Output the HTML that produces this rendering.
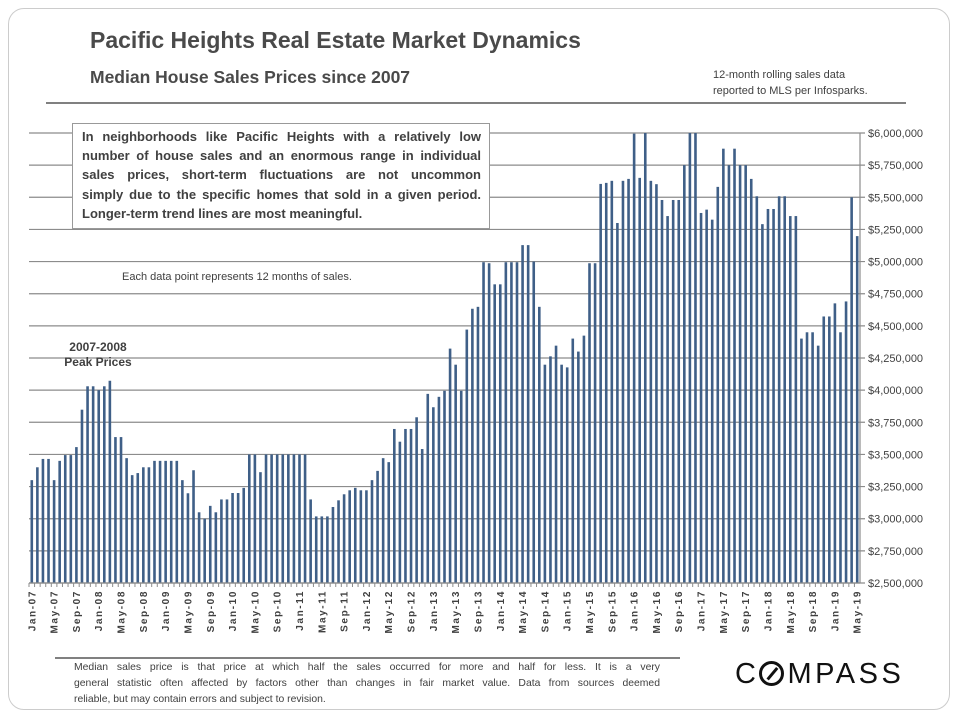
<!DOCTYPE html>
<html><head><meta charset="utf-8"><style>
body{margin:0;background:#fff;}
#wrap{position:relative;width:960px;height:720px;overflow:hidden;font-family:"Liberation Sans Narrow","Liberation Sans",sans-serif;color:#404040;}
.frame{position:absolute;left:8px;top:8px;width:942px;height:702px;border:1.5px solid #ccc;border-radius:16px;box-sizing:border-box;}
.t{position:absolute;white-space:nowrap;}
.jl{text-align:justify;text-align-last:justify;white-space:nowrap;}
</style></head><body>
<div id="wrap">
<div class="frame"></div>
<div class="t" style="left:90px;top:27px;font-size:23px;font-weight:bold;color:#4a4a4a;">Pacific Heights Real Estate Market Dynamics</div>
<div class="t" style="left:90px;top:67px;font-size:17.5px;font-weight:bold;color:#4a4a4a;">Median House Sales Prices since 2007</div>
<div class="t" style="left:713px;top:67px;font-size:11px;line-height:16px;color:#404040;">12-month rolling sales data<br>reported to MLS per Infosparks.</div>
<div style="position:absolute;left:46px;top:102px;width:860px;height:2px;background:#808080;"></div>
<svg id="chart" width="960" height="720" style="position:absolute;left:0;top:0;"></svg>
<div class="t" style="left:72px;top:123px;width:418px;height:106px;border:1px solid #999;background:#fff;box-sizing:border-box;padding:3px 8px 0 9px;font-size:13px;font-weight:bold;line-height:19.2px;color:#404040;">
<div class="jl">In neighborhoods like Pacific Heights with a relatively low</div>
<div class="jl">number of house sales and an enormous range in individual</div>
<div class="jl">sales prices, short-term fluctuations are not uncommon</div>
<div class="jl">simply due to the specific homes that sold in a given period.</div>
<div>Longer-term trend lines are most meaningful.</div>
</div>
<div class="t" style="left:122px;top:271px;font-size:11px;color:#404040;">Each data point represents 12 months of sales.</div>
<div class="t" style="left:58px;top:340px;width:80px;text-align:center;font-size:12px;font-weight:bold;line-height:15px;color:#404040;">2007-2008<br>Peak Prices</div>
<div style="position:absolute;left:55px;top:657px;width:625px;height:2px;background:#808080;"></div>
<div class="t" style="left:74px;top:660px;width:586px;font-size:10.4px;line-height:16px;color:#404040;">
<div class="jl">Median sales price is that price at which half the sales occurred for more and half for less. It is a very</div>
<div class="jl">general statistic often affected by factors other than changes in fair market value. Data from sources deemed</div>
<div>reliable, but may contain errors and subject to revision.</div>
</div>
<div class="t" style="left:735px;top:658px;font-size:29px;letter-spacing:3.5px;color:#111;font-family:'Liberation Sans',sans-serif;">C<span style="display:inline-block;width:25px;height:25px;border:3px solid #111;border-radius:50%;box-sizing:border-box;vertical-align:-3px;position:relative;margin-right:3px;"><span style="position:absolute;left:9px;top:2px;width:2.5px;height:15px;background:#111;transform:rotate(40deg);"></span></span>MPASS</div>
</div>
<script>
const months=["Jan","Feb","Mar","Apr","May","Jun","Jul","Aug","Sep","Oct","Nov","Dec"];
const prices=[3300,3400,3465,3465,3300,3450,3495,3495,3557,3848,4030,4030,4000,4030,4073,3635,3635,3471,3339,3355,3400,3400,3450,3450,3450,3450,3450,3300,3198,3377,3050,3000,3100,3050,3150,3150,3200,3200,3240,3500,3500,3362,3500,3500,3500,3500,3500,3500,3500,3500,3150,
3018,3018,3018,3091,3143,3190,3221,3240,3221,3221,3300,3372,3471,3440,3698,3599,3698,3698,3789,3542,3971,3867,3948,3995,4323,4198,3995,4471,4633,4648,4995,4987,4823,4823,4995,4995,4995,5128,5128,5000,4648,4198,4263,4346,4198,4177,4401,4300,4424,4987,
4987,5604,5612,5628,5300,5628,5643,5995,5651,6000,5628,5602,5479,5354,5479,5479,5750,6000,6000,5378,5404,5326,5581,5878,5750,5878,5750,5750,5643,5508,5291,5409,5409,5508,5508,5354,5354,4401,4450,4450,4346,4573,4573,4675,4450,4690,5500,5198];
const yTicks=[2500,2750,3000,3250,3500,3750,4000,4250,4500,4750,5000,5250,5500,5750,6000];
const startYear=2007;
const NS="http://www.w3.org/2000/svg";
const svg=document.getElementById('chart');
const X0=29,X1=860,Y0=583,Y1=133,VMIN=2500,VMAX=6000;
const step=(X1-X0)/prices.length;
function xPos(i){return X0+step*(i+0.5);}
function yPos(v){return Y0-(v-VMIN)/(VMAX-VMIN)*(Y0-Y1);}
function mk(tag,attrs){const e=document.createElementNS(NS,tag);for(const k in attrs)e.setAttribute(k,attrs[k]);svg.appendChild(e);return e;}
yTicks.forEach(v=>{
  const g=mk('line',{x1:X0,x2:X1+5,y1:yPos(v),y2:yPos(v),stroke:'#8c8c8c','stroke-width':1.2});
  
  
  const t=mk('text',{x:X1+8,y:yPos(v)+4,'font-size':11,fill:'#404040','font-family':'"Liberation Sans Narrow","Liberation Sans",sans-serif'});
  t.textContent='$'+(v*1000).toLocaleString('en-US');
  
  
});
const ax=mk('line',{x1:X1,x2:X1,y1:Y1,y2:Y0,stroke:'#8c8c8c','stroke-width':1.2});


prices.forEach((v,i)=>{
  const y=yPos(v);
  const r=mk('rect',{x:xPos(i)-1.3,y:y,width:2.6,height:Y0-y,fill:'#3f5f87'});
  
  
  const tk=mk('line',{x1:X0+step*i,x2:X0+step*i,y1:Y0,y2:Y0+4,stroke:'#8c8c8c','stroke-width':1});
  
  
  if(i%4===0){
    const m=months[i%12]+'-'+String((startYear+Math.floor(i/12))%100).padStart(2,'0');
    const lx=xPos(i)+3.5,ly=Y0+7;
    const t=mk('text',{x:lx,y:ly,'font-size':10,'font-weight':'bold',fill:'#404040','text-anchor':'end',transform:`rotate(-90 ${lx} ${ly})`,'font-family':'"Liberation Sans",sans-serif','letter-spacing':'1.6'});
    t.textContent=m;
    
    
  }
});
const bl=mk('line',{x1:X0,x2:X1,y1:Y0,y2:Y0,stroke:'#8c8c8c','stroke-width':1.2});


</script>
</body></html>
